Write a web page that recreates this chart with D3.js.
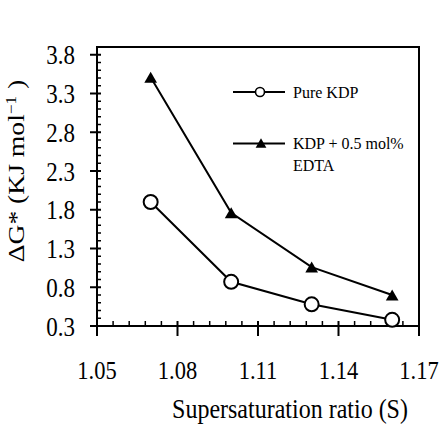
<!DOCTYPE html>
<html><head><meta charset="utf-8">
<script src="https://cdn.jsdelivr.net/npm/d3@7"></script>
<style>body{margin:0;background:#fff}svg{display:block}</style>
</head><body><svg id="c" width="445" height="424"></svg>
<script>
var sRatio = [1.07, 1.10, 1.13, 1.16];
var pureKDP = [1.90, 0.87, 0.58, 0.38];
var kdpEDTA = [3.51, 1.76, 1.06, 0.70];
var xTicks = [1.05, 1.08, 1.11, 1.14, 1.17];
var yTicks = [0.3, 0.8, 1.3, 1.8, 2.3, 2.8, 3.3, 3.8];
var seriesNames = ["Pure KDP", "KDP + 0.5 mol%", "EDTA"];

var FONT = "Liberation Serif";
var SY = 1.15;
var svg = d3.select("#c");
var L = 97, R = 419, T = 47, B = 326;
var yPer = 77.5;
var x = d3.scaleLinear().domain([1.05, 1.17]).range([L, R]);
var y = d3.scaleLinear().domain([0.3, 0.3 + (B - T) / yPer]).range([B, T]);

var xMinor = [];
for (var i = 1; i < 20; i++) if (i % 5 !== 0) xMinor.push(1.05 + i * 0.006);
var yMinor = [];
for (var j = 1; j < 36; j++) if (j % 5 !== 0) yMinor.push(0.3 + j * 0.1);

function ln(x1, y1, x2, y2, w) {
  svg.append("line").attr("x1", x1).attr("y1", y1).attr("x2", x2).attr("y2", y2)
    .attr("stroke", "#000").attr("stroke-width", w);
}
ln(L, T, R, T, 2);
ln(R, T - 1, R, B + 1, 2);
ln(L - 1, B, R + 1, B, 2);
ln(L, T - 1, L, B + 1, 2);
xMinor.forEach(function (d) { ln(x(d), B, x(d), B - 5, 1.5); });
yMinor.forEach(function (d) { ln(L, y(d), L + 4, y(d), 1.5); });
xTicks.forEach(function (d) { ln(x(d), B - 5, x(d), B + 10, 2); });
yTicks.forEach(function (d) { ln(L - 7, y(d), L + 4, y(d), 2); });

function tx(xp, yp, s, size, anchor, sy) {
  return svg.append("text").attr("font-family", FONT)
    .attr("transform", "translate(" + xp + "," + yp + ") scale(1," + (sy || 1) + ")")
    .attr("font-size", size).attr("text-anchor", anchor || "start").attr("fill", "#000").text(s);
}
xTicks.forEach(function (d) { tx(x(d), 379, d.toFixed(2), 22.5, "middle", SY); });
yTicks.forEach(function (d) { tx(75, y(d) + 9.5, d.toFixed(1), 23, "end", SY); });
tx(290, 418, "Supersaturation ratio (S)", 24, "middle", SY);

var yt = svg.append("text").attr("font-family", FONT)
  .attr("transform", "translate(24,171) scale(1," + SY + ") rotate(-90)")
  .attr("text-anchor", "middle").attr("font-size", 24).attr("fill", "#000");
yt.append("tspan").text("\u0394G* (KJ mol");
yt.append("tspan").attr("dy", -8).attr("font-size", 15).text("\u22121");
yt.append("tspan").attr("dy", 8).text(" )");

var line = d3.line().x(function (d) { return x(d[0]); }).y(function (d) { return y(d[1]); });
var pureData = sRatio.map(function (s, k) { return [s, pureKDP[k]]; });
var edtaData = sRatio.map(function (s, k) { return [s, kdpEDTA[k]]; });
svg.append("path").attr("d", line(edtaData)).attr("fill", "none").attr("stroke", "#000").attr("stroke-width", 2);
svg.append("path").attr("d", line(pureData)).attr("fill", "none").attr("stroke", "#000").attr("stroke-width", 2);

var triSize = 70;
var triOff = Math.sqrt(triSize / (Math.sqrt(3) * 3)) / 2;
var tri = d3.symbol().type(d3.symbolTriangle).size(triSize);
edtaData.forEach(function (d) {
  svg.append("path").attr("transform", "translate(" + x(d[0]) + "," + (y(d[1]) + triOff) + ")")
    .attr("d", tri()).attr("fill", "#000");
});
pureData.forEach(function (d) {
  svg.append("circle").attr("cx", x(d[0])).attr("cy", y(d[1])).attr("r", 7)
    .attr("fill", "#fff").attr("stroke", "#000").attr("stroke-width", 2);
});

ln(233, 92, 285, 92, 2);
svg.append("circle").attr("cx", 260).attr("cy", 92).attr("r", 4.5).attr("fill", "#fff").attr("stroke", "#000").attr("stroke-width", 1.6);
tx(293, 98, seriesNames[0], 16);
ln(233, 143.5, 285, 143.5, 2);
var lt = d3.symbol().type(d3.symbolTriangle).size(50);
svg.append("path").attr("transform", "translate(261," + (143 + Math.sqrt(50 / (Math.sqrt(3) * 3)) / 2) + ")").attr("d", lt()).attr("fill", "#000");
tx(293, 148.5, seriesNames[1], 16);
tx(293, 170.5, seriesNames[2], 16);
</script></body></html>
